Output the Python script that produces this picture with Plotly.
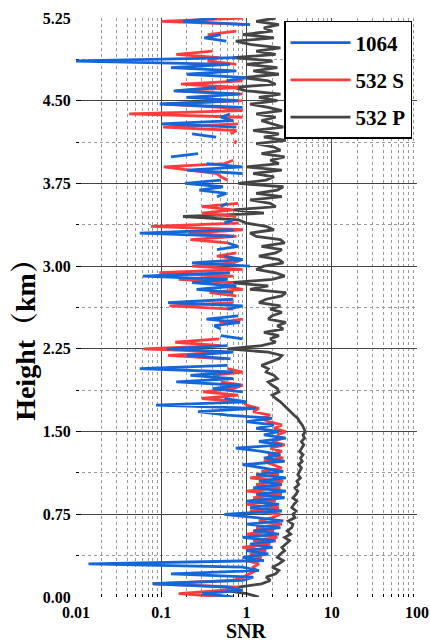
import plotly.graph_objects as go

# Height bins (km)
HEIGHT_KM = [
    0.00, 0.03, 0.06, 0.09, 0.12, 0.15, 0.18, 0.21, 0.24, 0.27,
    0.30, 0.33, 0.36, 0.39, 0.42, 0.45, 0.48, 0.51, 0.54, 0.57,
    0.60, 0.63, 0.66, 0.69, 0.72, 0.75, 0.78, 0.81, 0.84, 0.87,
    0.90, 0.93, 0.96, 0.99, 1.02, 1.05, 1.08, 1.11, 1.14, 1.17,
    1.20, 1.23, 1.26, 1.29, 1.32, 1.35, 1.38, 1.41, 1.44, 1.47,
    1.50, 1.53, 1.56, 1.59, 1.62, 1.65, 1.68, 1.71, 1.74, 1.77,
    1.80, 1.83, 1.86, 1.89, 1.92, 1.95, 1.98, 2.01, 2.04, 2.07,
    2.10, 2.13, 2.16, 2.19, 2.22, 2.25, 2.28, 2.31, 2.34, 2.37,
    2.40, 2.43, 2.46, 2.49, 2.52, 2.55, 2.58, 2.61, 2.64, 2.67,
    2.70, 2.73, 2.76, 2.79, 2.82, 2.85, 2.88, 2.91, 2.94, 2.97,
    3.00, 3.03, 3.06, 3.09, 3.12, 3.15, 3.18, 3.21, 3.24, 3.27,
    3.30, 3.33, 3.36, 3.39, 3.42, 3.45, 3.48, 3.51, 3.54, 3.57,
    3.60, 3.63, 3.66, 3.69, 3.72, 3.75, 3.78, 3.81, 3.84, 3.87,
    3.90, 3.93, 3.96, 3.99, 4.02, 4.05, 4.08, 4.11, 4.14, 4.17,
    4.20, 4.23, 4.26, 4.29, 4.32, 4.35, 4.38, 4.41, 4.44, 4.47,
    4.50, 4.53, 4.56, 4.59, 4.62, 4.65, 4.68, 4.71, 4.74, 4.77,
    4.80, 4.83, 4.86, 4.89, 4.92, 4.95, 4.98, 5.01, 5.04, 5.07,
    5.10, 5.13, 5.16, 5.19, 5.22, 5.25,
]

N = None

SNR_1064 = [
    0.7, 0.3, 0.9, 0.6, 0.08, 0.9, 1.2, 0.13, 1.4, 0.9,
    0.014, 1.6, 0.9, 1.8, 1.0, 2.0, 1.1, 2.2, 0.9, 2.4,
    1.2, 2.5, 1.0, 2.7, 1.3, 0.55, 2.6, 1.1, 2.4, 1.0,
    2.8, 1.3, 2.9, 1.2, 2.6, 1.4, 2.9, 1.3, 2.7, 1.5,
    0.9, 2.8, 1.6, 2.5, 1.5, 0.75, 2.6, 1.4, 2.9, 1.6,
    2.4, 1.3, 2.1, 1.0, 2.0, 0.6, 0.27, 1.3, 0.087,
    1.0, 0.55, N, 0.9, 0.4, 0.85, 0.15, 0.7, 0.22, 0.7,
    0.056, 0.6, N, 0.65, 0.2, 0.7, 0.117, 0.6, N, 0.9,
    0.5, N, 0.5, 0.42, 0.84, 0.34, 0.8, N, 0.6, 0.9,
    0.12, 0.7, N, 0.7, 0.26, 0.76, 0.23, 0.6, 0.061, 0.64,
    N, 1.1, 0.23, 0.9, 0.55, N, 0.45, 0.8, 0.6, N,
    0.7, 0.056, 0.7, N, 0.55, 0.7, N, N, N, 0.5,
    0.6, N, 0.45, 0.58, 0.28, 0.53, 0.19, 0.5, N, 0.9,
    0.2, 0.9, 0.34, N, 0.13, 0.27, N, N, N, N,
    0.44, 0.23, N, 0.76, 0.1, 0.7, 0.5, 0.64, N, 0.9,
    0.096, 0.8, 0.2, 0.84, 0.14, 0.44, N, 0.58, 1.0, 0.2,
    0.76, 0.13, 0.64, 0.008, 0.76, N, N, N, N, 0.58,
    0.32, 0.5, N, N, 1.1, 0.18, 0.45,
]

SNR_532S = [
    0.6, 0.16, 0.5, 0.8, 0.08, 0.7, 0.9, 1.1, 1.3, 1.2,
    1.4, 1.0, 1.5, 1.1, 1.7, 0.9, 1.9, 1.2, 2.3, 1.0,
    2.1, 1.3, 2.6, 1.4, 2.0, 2.5, 1.1, 2.4, 1.0, 2.2,
    1.2, 2.6, 1.0, 2.5, 1.3, 2.7, 1.1, 2.4, 1.5, 2.6,
    2.0, 1.6, 2.7, 1.8, 2.6, 1.9, 2.8, 2.0, 2.7, 2.3,
    2.9, 2.1, 2.6, 1.8, 1.5, 1.9, 1.2, 1.4, 1.0,
    0.9, 0.3, 0.8, 0.31, 0.7, 0.9, 0.5, N, 0.4, 0.9,
    0.6, N, N, 0.55, 0.12, 0.64, 0.062, 0.5, 0.146, 0.48,
    N, N, N, N, 0.48, 0.9, N, N, 0.7, 0.125,
    0.7, N, 0.76, 0.37, 0.9, 0.5, 0.7, 0.16, 0.7, 0.095,
    0.9, 0.23, 0.7, 0.9, 0.45, 0.76, N, N, 0.6, 0.22,
    0.76, 0.21, 0.9, 0.076, 0.8, N, 0.76, 0.3, 0.7, 0.3,
    0.8, N, N, N, N, N, N, 0.6, 0.5, 0.45,
    0.2, 0.107, 0.55, 0.7, N, N, N, N, 0.72, 0.76,
    N, 0.65, 0.76, 0.105, 0.8, N, 0.9, 0.042, 0.9, 0.5,
    0.11, 0.9, N, 0.9, 0.15, 0.8, 0.17, 0.9, N, N,
    N, N, 0.76, 0.35, 0.48, 0.15, 0.4, N, N, N,
    N, 0.35, 0.76, N, 1.1, 0.1, 0.9,
]

SNR_532P = [
    1.4, 1.0, 0.55, 0.8, 1.5, 1.9, 1.7, 2.2, 2.4, 2.0,
    2.4, 2.7, 2.3, 2.5, 2.8, 2.6, 2.9, 3.2, 2.8, 3.3,
    3.0, 3.4, 3.5, 3.1, 3.7, 3.5, 3.8, 3.4, 3.6, 3.9,
    3.5, 3.8, 4.0, 3.7, 4.1, 3.9, 4.3, 4.0, 4.2, 4.4,
    4.1, 4.5, 4.3, 4.6, 4.2, 4.5, 4.7, 4.4, 4.8, 4.6,
    4.9, 4.7, 4.5, 4.2, 4.0, 3.6, 3.3, 3.0, 2.7,
    2.5, 2.2, 2.0, 2.4, 2.3, 2.0, 1.8, 2.3, 2.1, 1.7,
    1.8, 1.5, 1.9, 2.4, 2.6, 1.8, 0.6, 1.5, 2.2, 1.9,
    2.4, 1.6, 2.7, 2.3, 2.9, 1.8, 2.0, 2.6, 1.9, 2.5,
    1.4, 1.7, 2.6, 2.9, 1.1, 1.8, 0.65, 2.0, 2.8, 2.2,
    1.3, 1.6, 2.7, 2.4, 1.4, 2.2, 2.6, 1.5, 2.8, 2.5,
    1.3, 1.1, 2.1, 1.7, 1.0, 0.8, 0.18, 1.6, 0.7, 2.2,
    1.9, 1.1, 2.6, 1.3, 2.3, 2.7, 0.8, 1.7, 2.1, 1.2,
    2.6, 1.0, 2.4, 1.9, 2.8, 1.5, 2.5, 2.1, 1.3, 2.9,
    1.6, 2.4, 1.2, 2.7, 2.0, 1.5, 2.2, 1.3, 2.6, 1.8,
    1.1, 2.3, 1.4, 2.5, 1.0, 0.7, 2.2, 1.8, 0.9, 2.4,
    1.2, 2.3, 1.0, 2.0, 0.7, 2.2, 1.3, 2.5, 1.1, 0.75,
    2.1, 0.9, 2.0, 1.6, 2.4, 1.3, 2.2,
]

SERIES_NAMES = ["1064", "532 S", "532 P"]
SERIES_COLORS = ["#1467d8", "#ff3c3c", "#454545"]
Y_TICKS = [0.0, 0.75, 1.5, 2.25, 3.0, 3.75, 4.5, 5.25]
Y_MINOR = [0.375, 1.125, 1.875, 2.625, 3.375, 4.125, 4.875]
X_TICKS = [0.01, 0.1, 1, 10, 100]
X_TICK_TEXT = ["0.01", "0.1", "1", "10", "100"]

SERIF = "Liberation Serif, Times New Roman, Noto Serif CJK SC, Noto Sans CJK SC, serif"

fig = go.Figure()
zorders = [2, 1, 0]
for name, color, vals, z in zip(SERIES_NAMES, SERIES_COLORS,
                                [SNR_1064, SNR_532S, SNR_532P], zorders):
    fig.add_trace(go.Scatter(
        x=vals, y=HEIGHT_KM, mode="lines", name=name,
        line=dict(color=color, width=2.8),
        connectgaps=False, legendgroup=name, zorder=z,
    ))

fig.update_layout(
    width=430, height=642,
    margin=dict(l=76, r=13, t=18, b=45),
    paper_bgcolor="white", plot_bgcolor="white",
    font=dict(family=SERIF, color="black"),
    legend=dict(
        x=0.61, y=0.995, xanchor="left", yanchor="top",
        bgcolor="white", bordercolor="black", borderwidth=1.5,
        font=dict(family=SERIF, size=21, weight="bold", color="black"),
        itemwidth=60, tracegroupgap=7,
    ),
    annotations=[
        dict(text="Height（km）", textangle=-90,
             xref="paper", yref="paper", x=-0.147, y=0.456,
             xanchor="center", yanchor="middle", showarrow=False,
             font=dict(family=SERIF, size=28, weight="bold", color="black")),
        dict(text="SNR", xref="paper", yref="paper", x=0.5, y=-0.0579,
             xanchor="center", yanchor="middle", showarrow=False,
             borderpad=0,
             font=dict(family=SERIF, size=20, weight="bold", color="black")),
    ],
)

fig.update_xaxes(
    type="log", range=[-2, 2], automargin=False,
    tickmode="array", tickvals=X_TICKS, ticktext=X_TICK_TEXT,
    ticks="inside", ticklen=5, tickwidth=1, tickcolor="black",
    showline=True, linewidth=2, linecolor="black", mirror=True,
    showgrid=True, gridcolor="#444444", gridwidth=1,
    minor=dict(dtick="D1", showgrid=True, gridcolor="#999999",
               griddash="dot", gridwidth=1, ticks="inside", ticklen=3,
               tickcolor="black"),
    tickfont=dict(family=SERIF, size=16, weight="bold", color="black"),
    zeroline=False,
)

fig.update_yaxes(
    range=[0, 5.25], automargin=False,
    tickmode="array", tickvals=Y_TICKS,
    ticktext=[f"{v:.2f}" for v in Y_TICKS],
    ticks="inside", ticklen=5, tickwidth=1, tickcolor="black",
    showline=True, linewidth=2, linecolor="black", mirror=True,
    showgrid=True, gridcolor="#444444", gridwidth=1,
    minor=dict(tickmode="array", tickvals=Y_MINOR, showgrid=True,
               gridcolor="#999999", griddash="dot", gridwidth=1,
               ticks="inside", ticklen=3, tickcolor="black"),
    tickfont=dict(family=SERIF, size=16, weight="bold", color="black"),
    zeroline=False,
)

fig.write_html("out.html")
